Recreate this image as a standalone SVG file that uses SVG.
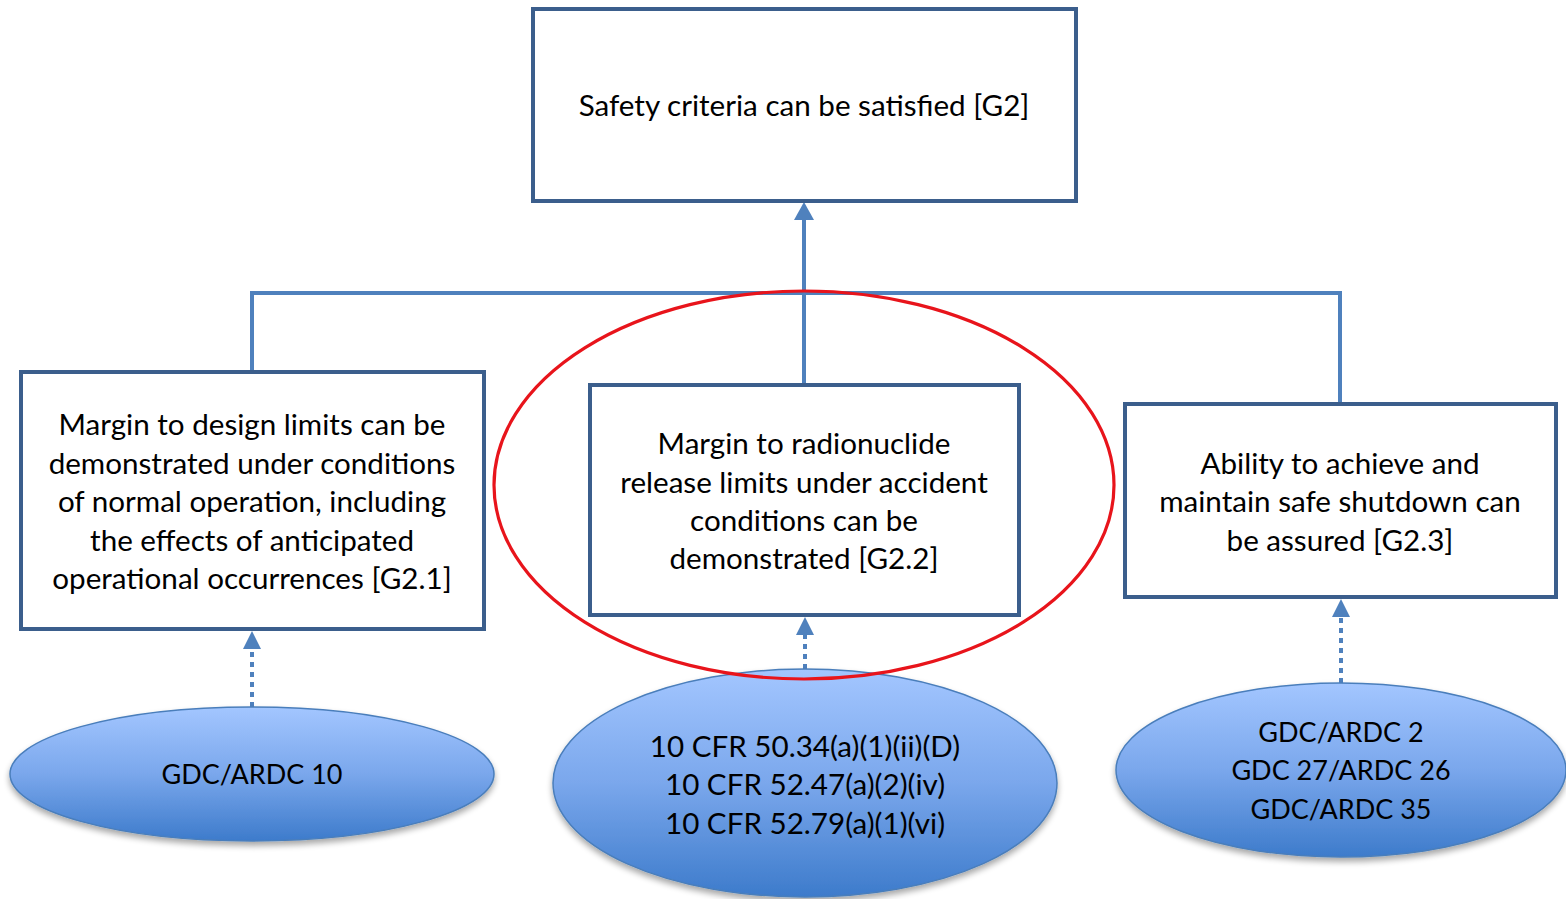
<svg xmlns="http://www.w3.org/2000/svg" width="1566" height="899" viewBox="0 0 1566 899">
  <style>
    .box { fill: #ffffff; stroke: #3B5E8C; stroke-width: 4; }
    .txt { font-family: Lato, "Open Sans", sans-serif; font-size: 29.6px; fill: #000000; text-anchor: middle; dominant-baseline: central; }
    .gdc { font-size: 27px; }
    .link { fill: none; stroke: #4F81BD; stroke-width: 4; }
    .dot { fill: none; stroke: #4F81BD; stroke-width: 4; stroke-dasharray: 5 5; }
    .oval { fill: url(#ovalFill); stroke: #4A7EBB; stroke-width: 1.5; filter: url(#drop); }
    .ring { fill: none; stroke: #E8141B; stroke-width: 3.2; }
  </style>
  <defs>
    <linearGradient id="ovalFill" x1="0" y1="0" x2="0" y2="1">
      <stop offset="0" stop-color="#A3C6FF"/>
      <stop offset="0.5" stop-color="#7AA7EC"/>
      <stop offset="1" stop-color="#3D7BCB"/>
    </linearGradient>
    <filter id="drop" x="-10%" y="-10%" width="120%" height="130%">
      <feGaussianBlur in="SourceAlpha" stdDeviation="3"/>
      <feOffset dy="4"/>
      <feComponentTransfer><feFuncA type="linear" slope="0.35"/></feComponentTransfer>
      <feMerge><feMergeNode/><feMergeNode in="SourceGraphic"/></feMerge>
    </filter>
  </defs>

  <rect width="1566" height="899" fill="#ffffff"/>

  <!-- connectors -->
  <g id="connectors">
    <path class="link" d="M804,385 V220"/>
    <path d="M794,220 L804,202 L814,220 Z" fill="#4F81BD"/>
    <path class="link" d="M252,372 V293 H1340 V404"/>
    <path class="dot" d="M252,707 V649"/>
    <path d="M243,649 L252,631 L261,649 Z" fill="#4F81BD"/>
    <path class="dot" d="M805,669 V635"/>
    <path d="M796,635 L805,617 L814,635 Z" fill="#4F81BD"/>
    <path class="dot" d="M1341,683 V617"/>
    <path d="M1332,617 L1341,599 L1350,617 Z" fill="#4F81BD"/>
  </g>

  <!-- goals -->
  <g id="g2">
    <rect class="box" x="533" y="9" width="543" height="192"/>
    <text class="txt" x="804" y="104">Safety criteria can be satisfied [G2]</text>
  </g>

  <g id="g2-1">
    <rect class="box" x="21" y="372" width="463" height="257"/>
    <text class="txt" x="252" y="423">Margin to design limits can be</text>
    <text class="txt" x="252" y="462">demonstrated under conditions</text>
    <text class="txt" x="252" y="500">of normal operation, including</text>
    <text class="txt" x="252" y="539">the effects of anticipated</text>
    <text class="txt" x="252" y="577">operational occurrences [G2.1]</text>
  </g>

  <g id="g2-2">
    <rect class="box" x="590" y="385" width="429" height="230"/>
    <text class="txt" x="804" y="442">Margin to radionuclide</text>
    <text class="txt" x="804" y="481">release limits under accident</text>
    <text class="txt" x="804" y="519">conditions can be</text>
    <text class="txt" x="804" y="557">demonstrated [G2.2]</text>
  </g>

  <g id="g2-3">
    <rect class="box" x="1125" y="404" width="431" height="193"/>
    <text class="txt" x="1340" y="462">Ability to achieve and</text>
    <text class="txt" x="1340" y="500">maintain safe shutdown can</text>
    <text class="txt" x="1340" y="539">be assured [G2.3]</text>
  </g>

  <!-- regulatory criteria -->
  <g id="req-1">
    <ellipse class="oval" cx="252" cy="774" rx="242" ry="67"/>
    <text class="txt gdc" x="252" y="773">GDC/ARDC 10</text>
  </g>

  <g id="req-2">
    <ellipse class="oval" cx="805" cy="783" rx="252" ry="114"/>
    <text class="txt" x="805" y="745">10 CFR 50.34(a)(1)(ii)(D)</text>
    <text class="txt" x="805" y="783">10 CFR 52.47(a)(2)(iv)</text>
    <text class="txt" x="805" y="822">10 CFR 52.79(a)(1)(vi)</text>
  </g>

  <g id="req-3">
    <ellipse class="oval" cx="1341" cy="770" rx="225" ry="87"/>
    <text class="txt gdc" x="1341" y="731">GDC/ARDC 2</text>
    <text class="txt gdc" x="1341" y="769">GDC 27/ARDC 26</text>
    <text class="txt gdc" x="1341" y="808">GDC/ARDC 35</text>
  </g>

  <!-- highlight around G2.2 -->
  <g id="highlight">
    <ellipse class="ring" cx="804" cy="485" rx="310" ry="194"/>
  </g>
</svg>
